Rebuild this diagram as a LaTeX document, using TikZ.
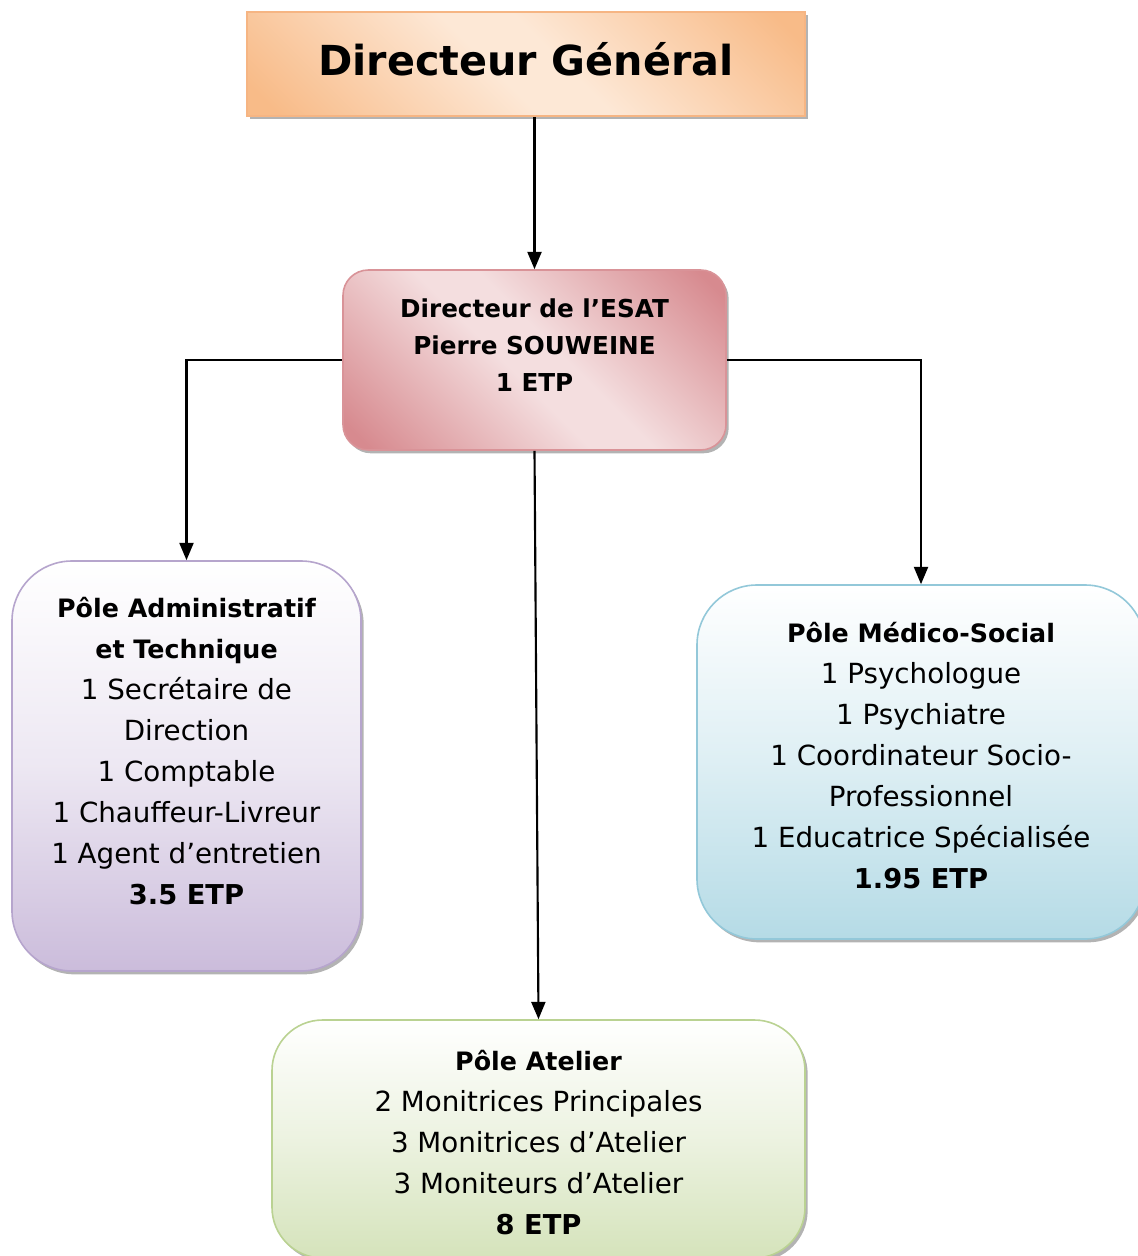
\documentclass[tikz,border=0pt]{standalone}
\usepackage{fontspec}
\setmainfont{DejaVu Sans}
\usetikzlibrary{
    arrows.meta,
    positioning,
    shadows
}

\definecolor{dgdark}{HTML}{F8BB88}
\definecolor{dglight}{HTML}{FDE8D6}
\definecolor{dgedge}{HTML}{F6B583}
\definecolor{esatdark}{HTML}{D78A8F}
\definecolor{esatlight}{HTML}{F4DEDF}
\definecolor{esatedge}{HTML}{D99398}
\definecolor{adminfill}{HTML}{CBBCDB}
\definecolor{adminedge}{HTML}{B6A5CD}
\definecolor{medicofill}{HTML}{B5DBE6}
\definecolor{medicoedge}{HTML}{93C8D9}
\definecolor{atelierfill}{HTML}{D5E3BB}
\definecolor{atelieredge}{HTML}{BAD292}

\pgfdeclareverticalshading{dgshade}{100bp}{color(0bp)=(dgdark); color(18bp)=(dgdark);
    color(46bp)=(dglight); color(54bp)=(dglight); color(82bp)=(dgdark); color(100bp)=(dgdark)}
\pgfdeclareverticalshading{esatshade}{100bp}{color(0bp)=(esatdark); color(18bp)=(esatdark);
    color(46bp)=(esatlight); color(54bp)=(esatlight); color(82bp)=(esatdark); color(100bp)=(esatdark)}

\newcommand{\polehead}[1]{{\fontsize{19}{30.75}\selectfont\bfseries #1}}
\newcommand{\etp}[1]{{\fontsize{20.5}{30.75}\selectfont\bfseries #1}}

\begin{document}
\begin{tikzpicture}[
    x=0.75pt, y=-0.75pt,
    card/.style={draw, line width=1.2pt, inner sep=0pt,
        drop shadow={shadow xshift=2pt, shadow yshift=-2.5pt, fill=black!50, opacity=0.6}},
    txt/.style={align=center, font=\fontsize{20.8}{30.75}\selectfont},
    arrow/.style={-{Triangle[length=13pt,width=10.5pt]}, line width=1.6pt}
]
    \useasboundingbox (0,0) rectangle (1138,1256);

    % Boxes
    \node (dg) [card, draw=dgedge, shading=dgshade, shading angle=-45,
        minimum width=418.5pt, minimum height=78pt] at (526,64) {};
    \node (esat) [card, draw=esatedge, shading=esatshade, shading angle=-45,
        rounded corners=19pt, minimum width=287.25pt, minimum height=135pt] at (534.5,360) {};
    \node (admin) [card, draw=adminedge, top color=white, bottom color=adminfill, middle color=adminfill!35,
        rounded corners=45pt, minimum width=261.75pt, minimum height=307.5pt] at (186.5,766) {};
    \node (medico) [card, draw=medicoedge, top color=white, bottom color=medicofill, middle color=medicofill!45,
        rounded corners=45pt, minimum width=336pt, minimum height=265.5pt] at (921,762) {};
    \node (atelier) [card, draw=atelieredge, top color=white, bottom color=atelierfill, middle color=atelierfill!45,
        rounded corners=38pt, minimum width=399.75pt, minimum height=178.5pt] at (538.5,1139) {};

    % Texts
    \node (dgtext) [font=\bfseries\fontsize{31}{36}\selectfont] at (526,59) {Directeur Général};
    \node (esattext) [align=center, font=\bfseries\fontsize{18.5}{27.75}\selectfont] at (534.5,345)
        {Directeur de l’ESAT\\ Pierre SOUWEINE\\ 1 ETP};
    \node (admintext) [txt] at (186.5,751)
        {\polehead{Pôle Administratif}\\ \polehead{et Technique}\\ 1 Secrétaire de\\ Direction\\
         1 Comptable\\ 1 Chauffeur-Livreur\\ 1 Agent d’entretien\\ \etp{3.5 ETP}};
    \node (medicotext) [txt] at (921,756)
        {\polehead{Pôle Médico-Social}\\ 1 Psychologue\\ 1 Psychiatre\\ 1 Coordinateur Socio-\\
         Professionnel\\ 1 Educatrice Spécialisée\\ \etp{1.95 ETP}};
    \node (ateliertext) [txt] at (538.5,1143)
        {\polehead{Pôle Atelier}\\ 2 Monitrices Principales\\ 3 Monitrices d’Atelier\\
         3 Moniteurs d’Atelier\\ \etp{8 ETP}};

    % Connectors
    \draw [arrow] (esat.north |- dg.south) -- (esat.north);
    \draw [arrow] (esat.west) -| (admin.north);
    \draw [arrow] (esat.east) -| (medico.north);
    \draw [arrow] (esat.south) -- (atelier.north);

\end{tikzpicture}
\end{document}
